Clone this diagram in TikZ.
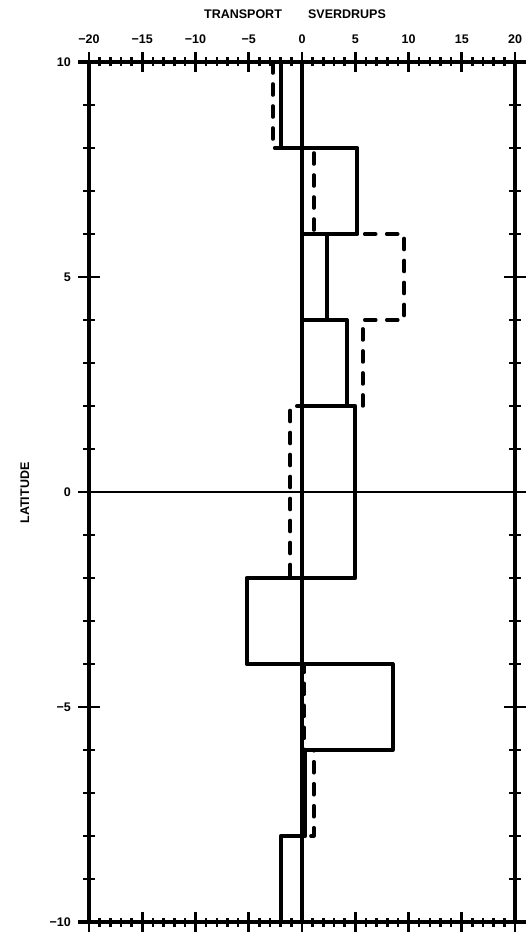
\documentclass[tikz,border=0pt]{standalone}
\usepackage{fontspec}
\setmainfont{Liberation Sans}
\begin{document}
\begin{tikzpicture}[x=1pt,y=-1pt,
  axisline/.style={line width=3.5pt},
  tickmark/.style={line width=2.6pt},
  solidstep/.style={line width=4pt, line join=round},
  dashstep/.style={line width=3.6pt, dash pattern=on 11pt off 11pt, line cap=round, line join=round},
  zeroline/.style={line width=2pt},
  lbl/.style={font=\bfseries\fontsize{12.5}{13}\selectfont, inner sep=0pt}]
\useasboundingbox (0,0) rectangle (530,933);
\fill[white] (0,0) rectangle (530,933);
\node[lbl] (t1) at (243,14) {TRANSPORT};
\node[lbl] (t2) at (347,14) {SVERDRUPS};
\node[lbl, rotate=90] (latlab) at (25,493) {LATITUDE};
\begin{scope}[shift={(302,492)}, x=10.65pt, y=43pt]
  \coordinate (TL) at (-20,10);
  \coordinate (TR) at (20,10);
  \coordinate (BL) at (-20,-10);
  \coordinate (BR) at (20,-10);
  % dashed transport
  \draw[dashstep] (-2.75,10) -- (-2.75,8) -- (1.1,8) -- (1.1,6) -- (9.6,6) -- (9.6,4)
     -- (5.7,4) -- (5.7,2) -- (-1.1,2) -- (-1.1,-2) -- (-5.2,-2) -- (-5.2,-4)
     -- (0.2,-4) -- (0.2,-6) -- (1.1,-6) -- (1.1,-8) -- (-2,-8) -- (-2,-10);
  % equator line
  \draw[zeroline] (-20,0) -- (20,0);
  % solid transport bars
  \foreach \a/\b/\v in {10/8/-2, 8/6/5.2, 6/4/2.3, 4/2/4.2, 2/-2/5.0, -2/-4/-5.2, -4/-6/8.5, -6/-8/0.3, -8/-10/-2}
    \draw[solidstep] (0,\a) rectangle (\v,\b);
  \draw[solidstep] (0,10) -- (0,-10);
  % axes
  \draw[axisline] ([xshift=-11pt]TL) -- ([xshift=11pt]TR);
  \draw[axisline] ([xshift=-11pt]BL) -- ([xshift=11pt]BR);
  \draw[axisline] (TL) -- (BL);
  \draw[axisline] (TR) -- (BR);
  % ticks
  \foreach \s in {-20,...,20} {
    \draw[tickmark] (\s,10) ++(0,-4.5pt) -- ++(0,9pt);
    \draw[tickmark] (\s,-10) ++(0,-4.5pt) -- ++(0,9pt);
  }
  \foreach \s in {-20,-15,...,20} {
    \draw[tickmark] (\s,10) ++(0,-10pt) -- ++(0,20pt);
    \draw[tickmark] (\s,-10) ++(0,-10pt) -- ++(0,20pt);
  }
  \foreach \l in {-10,...,10} {
    \draw[tickmark] (-20,\l) ++(-6pt,0) -- ++(12pt,0);
    \draw[tickmark] (20,\l) ++(-6pt,0) -- ++(12pt,0);
  }
  \foreach \l in {-5,0,5} {
    \draw[tickmark] (-20,\l) ++(-11pt,0) -- ++(22pt,0);
    \draw[tickmark] (20,\l) ++(-11pt,0) -- ++(22pt,0);
  }
  % top labels
  \foreach \s/\t [count=\i] in {-20/−20,-15/−15,-10/−10,-5/−5,0/0,5/5,10/10,15/15,20/20}
    \node[lbl] (xl\i) at ([yshift=23pt]\s,10) {\t};
  % left labels
  \foreach \l/\t [count=\i] in {10/10,5/5,0/0,-5/−5,-10/−10}
    \node[lbl, anchor=east] (yl\i) at ([xshift=-18pt]-20,\l) {\t};
\end{scope}
\end{tikzpicture}
\end{document}
